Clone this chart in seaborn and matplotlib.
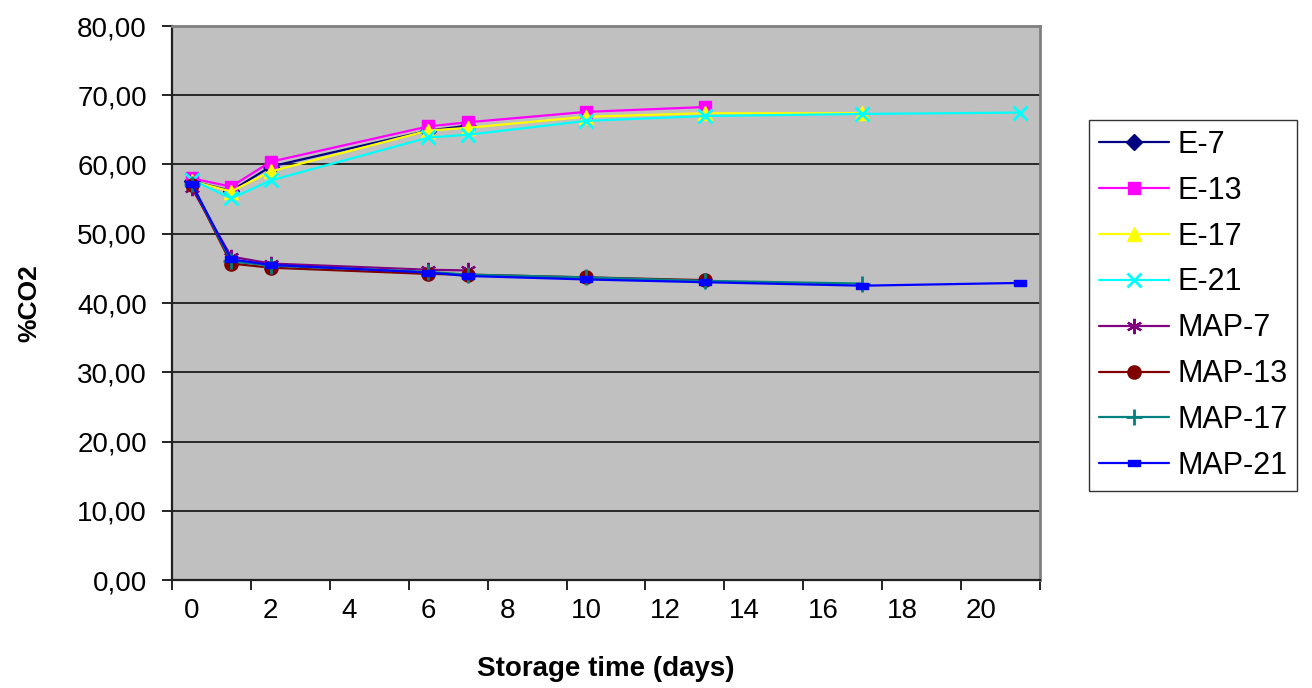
import numpy as np
import pandas as pd
import matplotlib
matplotlib.use("Agg")
import matplotlib.pyplot as plt
import seaborn as sns
from matplotlib.ticker import FixedLocator, FuncFormatter, NullFormatter

# Storage days at which each series was measured
days_e7 = [0, 1, 2, 6, 7]
days_e13 = [0, 1, 2, 6, 7, 10, 13]
days_e17 = [0, 1, 2, 6, 7, 10, 13, 17]
days_e21 = [0, 1, 2, 6, 7, 10, 13, 17, 21]

# %CO2 in headspace
e7 = [57.6, 56.2, 59.7, 64.9, 65.6]
e13 = [58.0, 56.8, 60.4, 65.5, 66.1, 67.6, 68.3]
e17 = [57.6, 56.1, 59.0, 64.9, 65.3, 66.9, 67.4, 67.4]
e21 = [57.8, 55.1, 57.7, 63.9, 64.3, 66.3, 67.0, 67.3, 67.5]
map7 = [56.6, 46.7, 45.7, 44.8, 44.7]
map13 = [57.0, 45.7, 45.1, 44.2, 44.1, 43.7, 43.3]
map17 = [57.2, 46.0, 45.4, 44.5, 44.1, 43.7, 43.2, 42.8]
map21 = [57.2, 46.3, 45.5, 44.4, 43.9, 43.4, 43.0, 42.5, 42.9]

series_names = ["E-7", "E-13", "E-17", "E-21", "MAP-7", "MAP-13", "MAP-17", "MAP-21"]
series_days = [days_e7, days_e13, days_e17, days_e21, days_e7, days_e13, days_e17, days_e21]
series_vals = [e7, e13, e17, e21, map7, map13, map17, map21]

x_tick_labels = ["0", "2", "4", "6", "8", "10", "12", "14", "16", "18", "20"]

colors = ["#000080", "#FF00FF", "#FFFF00", "#00FFFF",
          "#800080", "#800000", "#008080", "#0000FF"]
bar_marker = [(-1.0, -0.45), (1.0, -0.45), (1.0, 0.45), (-1.0, 0.45), (-1.0, -0.45)]
markers = ["D", "s", "^", "x", (6, 2, 0), "o", "+", bar_marker]
msizes = [8.5, 9, 9.5, 10, 11, 9.5, 11, 9]
mews = [1, 1, 1, 2, 1.6, 1, 2, 1]

sns.set_theme(style="white")
plt.rcParams["font.family"] = ["Liberation Sans", "DejaVu Sans"]
plt.rcParams["text.color"] = "black"
plt.rcParams["axes.labelcolor"] = "black"
plt.rcParams["xtick.color"] = "black"
plt.rcParams["ytick.color"] = "black"

fig = plt.figure(figsize=(13.12, 6.88), dpi=100)
ax = fig.add_axes([172 / 1312, 1 - 580 / 688, 868 / 1312, 554 / 688])
ax.set_facecolor("#C0C0C0")

for name, d, v, c, m, ms, mw in zip(series_names, series_days, series_vals,
                                     colors, markers, msizes, mews):
    df = pd.DataFrame({"day": d, "co2": v})
    sns.lineplot(data=df, x="day", y="co2", ax=ax, color=c, marker=m,
                 markersize=ms, markeredgecolor=c, markerfacecolor=c,
                 markeredgewidth=mw, linewidth=2.4, label=name,
                 estimator=None, sort=False)

ax.set_xlim(-0.5, 21.5)
ax.set_ylim(0, 80)

# horizontal gridlines
ax.yaxis.set_major_locator(FixedLocator(np.arange(0, 81, 10)))
ax.yaxis.set_major_formatter(FuncFormatter(lambda y, p: f"{y:.2f}".replace(".", ",")))
ax.grid(axis="y", color="black", linewidth=1.1)
ax.grid(axis="x", visible=False)
ax.set_axisbelow(True)

# category-style x axis: ticks at boundaries, labels at centres
ax.xaxis.set_major_locator(FixedLocator(np.arange(-0.5, 21.6, 2)))
ax.xaxis.set_major_formatter(NullFormatter())
ax.xaxis.set_minor_locator(FixedLocator(np.arange(0, 21, 2)))
ax.set_xticklabels(x_tick_labels, minor=True)

ax.tick_params(axis="x", which="major", direction="out", length=7, width=1.2,
               color="black", bottom=True)
ax.tick_params(axis="x", which="minor", length=0, pad=13, labelsize=20, bottom=True)
ax.tick_params(axis="y", which="major", direction="out", length=7, width=1.2,
               color="black", left=True, pad=11, labelsize=20)

for side in ["left", "bottom"]:
    ax.spines[side].set_color("#202020")
    ax.spines[side].set_linewidth(1.6)
for side in ["top", "right"]:
    ax.spines[side].set_color("#808080")
    ax.spines[side].set_linewidth(2.0)

ax.set_xlabel("Storage time (days)", fontsize=20, fontweight="bold")
ax.set_ylabel("%CO2", fontsize=19, fontweight="bold")
ax.xaxis.set_label_coords(0.5, -0.137)
ax.yaxis.set_label_coords(-0.150, 0.5)

handles, labels = ax.get_legend_handles_labels()
for h in handles:
    h.set_linewidth(1.6)
leg = ax.legend(handles, labels, loc="upper left",
                bbox_to_anchor=(1089 / 1312, 1 - 120 / 688),
                bbox_transform=fig.transFigure, frameon=True, fancybox=False,
                shadow=False, fontsize=22, handlelength=2.3, handletextpad=0.26,
                labelspacing=0.52, borderpad=0.32, borderaxespad=0)
leg.get_frame().set_edgecolor("black")
leg.get_frame().set_linewidth(1.0)
leg.get_frame().set_facecolor("white")

fig.savefig("out.png", dpi=100, facecolor="white")
